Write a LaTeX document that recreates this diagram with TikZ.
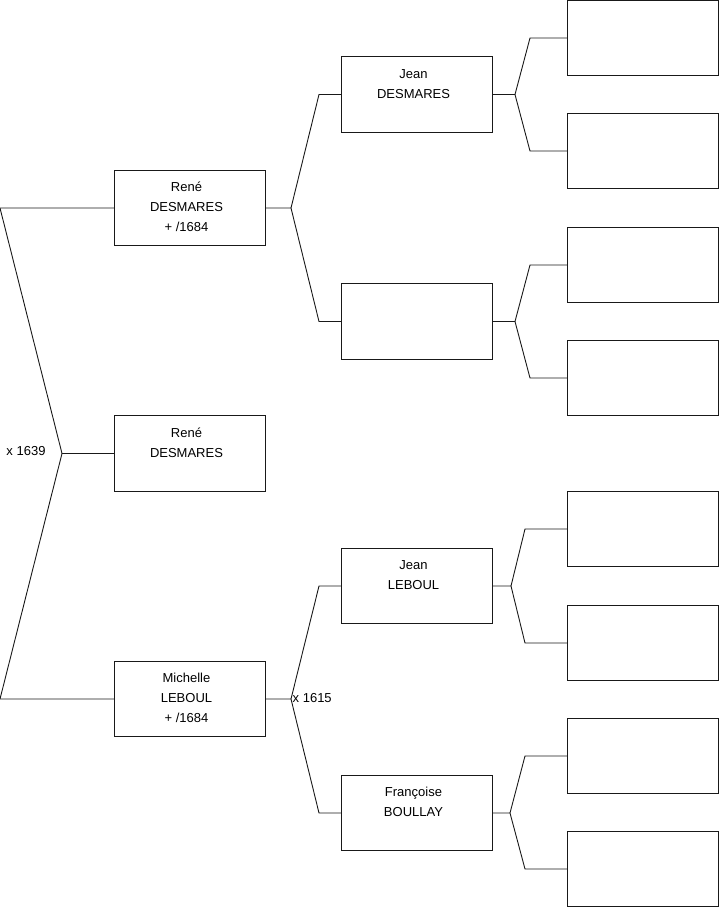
\documentclass[tikz,border=0pt]{standalone}
\usepackage{fontspec}
\setmainfont{Liberation Sans}
\usetikzlibrary{calc}
\begin{document}
\begin{tikzpicture}[x=1pt,y=-1pt,
  person/.style={draw=black!90,line width=0.9pt,minimum width=151pt,minimum height=75.5pt,inner sep=0pt,outer sep=0pt},
  ptext/.style={anchor=north,align=center,inner sep=0pt,font=\fontsize{13}{20}\selectfont},
  conn/.style={draw=black!90,line width=0.9pt},
  lbl/.style={font=\fontsize{13}{15}\selectfont,inner sep=1pt}]
\useasboundingbox (0,0) rectangle (719,908);
% generation 1
\node[person] (g1) at (189.5,453.5) {};
% generation 2
\node[person] (f) at (189.5,208) {};
\node[person] (m) at (189.5,699) {};
% generation 3
\node[person] (ff) at (416.5,94.5) {};
\node[person] (fm) at (416.5,321.5) {};
\node[person] (mf) at (416.5,586) {};
\node[person] (mm) at (416.5,813) {};
% generation 4
\node[person] (fff) at (643,38) {};
\node[person] (ffm) at (643,151) {};
\node[person] (fmf) at (643,265) {};
\node[person] (fmm) at (643,378) {};
\node[person] (mff) at (643,529) {};
\node[person] (mfm) at (643,643) {};
\node[person] (mmf) at (643,756) {};
\node[person] (mmm) at (643,869) {};
% texts
\node[ptext] (t1) at ($(g1.north)+(-3,7.4)$) {\strut René\\DESMARES};
\node[ptext] (t2) at ($(f.north)+(-3,7.4)$) {\strut René\\DESMARES\\+ /1684};
\node[ptext] (t3) at ($(m.north)+(-3,7.4)$) {\strut Michelle\\LEBOUL\\+ /1684};
\node[ptext] (t4) at ($(ff.north)+(-3,7.4)$) {\strut Jean\\DESMARES};
\node[ptext] (t5) at ($(mf.north)+(-3,7.4)$) {\strut Jean\\LEBOUL};
\node[ptext] (t6) at ($(mm.north)+(-3,7.4)$) {\strut Françoise\\BOULLAY};
% junction coordinates
\coordinate (j1) at (62,453.5);
\coordinate (a1) at (0,208);
\coordinate (b1) at (0,699);
\coordinate (j2) at (291,208);
\coordinate (a2) at (319,94.5);
\coordinate (b2) at (319,321.5);
\coordinate (j3) at (291,699);
\coordinate (a3) at (319,586);
\coordinate (b3) at (319,813);
\coordinate (j4) at (515,94.5);
\coordinate (a4) at (530,38);
\coordinate (b4) at (530,151);
\coordinate (j5) at (515,321.5);
\coordinate (a5) at (530,265);
\coordinate (b5) at (530,378);
\coordinate (j6) at (511,586);
\coordinate (a6) at (525,529);
\coordinate (b6) at (525,643);
\coordinate (j7) at (510,813);
\coordinate (a7) at (525,756);
\coordinate (b7) at (525,869);
% connectors
\draw[conn] (g1.west) -- (j1) -- (a1) -- (f.west);
\draw[conn] (j1) -- (b1) -- (m.west);
\draw[conn] (f.east) -- (j2) -- (a2) -- (ff.west);
\draw[conn] (j2) -- (b2) -- (fm.west);
\draw[conn] (m.east) -- (j3) -- (a3) -- (mf.west);
\draw[conn] (j3) -- (b3) -- (mm.west);
\draw[conn] (ff.east) -- (j4) -- (a4) -- (fff.west);
\draw[conn] (j4) -- (b4) -- (ffm.west);
\draw[conn] (fm.east) -- (j5) -- (a5) -- (fmf.west);
\draw[conn] (j5) -- (b5) -- (fmm.west);
\draw[conn] (mf.east) -- (j6) -- (a6) -- (mff.west);
\draw[conn] (j6) -- (b6) -- (mfm.west);
\draw[conn] (mm.east) -- (j7) -- (a7) -- (mmf.west);
\draw[conn] (j7) -- (b7) -- (mmm.west);
% marriage labels
\node[lbl] (x1) at (26,451.5) {x 1639};
\node[lbl,anchor=west] (x2) at (291.5,698.5) {x 1615};
\end{tikzpicture}
\end{document}
